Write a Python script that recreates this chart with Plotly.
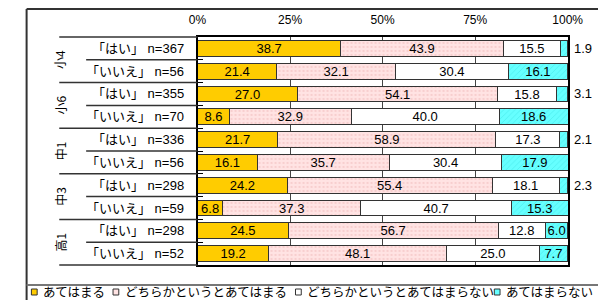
import plotly.graph_objects as go

groups = ["小4", "小6", "中1", "中3", "高1"]
row_labels = ["「はい」 n=367", "「いいえ」 n=56", "「はい」 n=355", "「いいえ」 n=70",
              "「はい」 n=336", "「いいえ」 n=56", "「はい」 n=298", "「いいえ」 n=59",
              "「はい」 n=298", "「いいえ」 n=52"]
series_names = ["あてはまる", "どちらかというとあてはまる", "どちらかというとあてはまらない", "あてはまらない"]
s1 = [38.7, 21.4, 27.0, 8.6, 21.7, 16.1, 24.2, 6.8, 24.5, 19.2]
s2 = [43.9, 32.1, 54.1, 32.9, 58.9, 35.7, 55.4, 37.3, 56.7, 48.1]
s3 = [15.5, 30.4, 15.8, 40.0, 17.3, 30.4, 18.1, 40.7, 12.8, 25.0]
s4 = [1.9, 16.1, 3.1, 18.6, 2.1, 17.9, 2.3, 15.3, 6.0, 7.7]
x_ticks = [0, 25, 50, 75, 100]
x_tick_labels = ["0%", "25%", "50%", "75%", "100%"]

# page body has an 8px margin; figure is sized to fit the remaining window
OFF = 8
W, H = 613 - OFF, 300 - OFF
def px(x): return (x - OFF) / W
def py(y): return 1 - (y - OFF) / H

plot_left, plot_right, plot_top, plot_bottom = 196, 582, 37, 265
n = len(row_labels)
row_h = (plot_bottom - plot_top) / n

fill = ["#FFCC00", "#FFE3E3", "#FFFFFF", "#66FFFF"]
patterns = [None,
            dict(shape=".", fgcolor="#F0B8B8", bgcolor="#FFE3E3", size=4, solidity=0.25),
            None,
            dict(shape="/", fgcolor="#33DDDD", bgcolor="#66FFFF", size=4, solidity=0.2)]
all_series = [s1, s2, s3, s4]
y_pos = list(range(n))

fig = go.Figure()
for name, vals, c, pat in zip(series_names, all_series, fill, patterns):
    texts = [f"{v:.1f}" if v >= 5 else "" for v in vals]
    marker = dict(color=c, line=dict(color="#333333", width=1))
    if pat:
        marker["pattern"] = pat
    fig.add_trace(go.Bar(
        y=y_pos, x=vals, orientation="h", name=name, marker=marker,
        text=texts, textposition="inside", insidetextanchor="middle",
        textfont=dict(family="Liberation Sans, Arial", size=13, color="black"),
        width=0.7, showlegend=False, cliponaxis=False, constraintext="none",
    ))

annotations = []
for i, v in enumerate(s4):
    if v < 5:
        annotations.append(dict(x=100, y=i, xref="x", yref="y", text=f"{v:.1f}",
                                showarrow=False, xanchor="left", xshift=4,
                                font=dict(family="Liberation Sans, Arial", size=13, color="black")))
for i, lab in enumerate(row_labels):
    annotations.append(dict(x=px(184), y=i, xref="paper", yref="y", text=lab,
                            showarrow=False, xanchor="right",
                            font=dict(family="Liberation Sans, Noto Sans CJK JP", size=13, color="black")))
for g, name in enumerate(groups):
    annotations.append(dict(x=px(53), y=2 * g + 0.5, xref="paper", yref="y", text=name,
                            showarrow=False, textangle=-90, xanchor="center", yanchor="middle",
                            font=dict(family="Noto Sans CJK JP", size=12, color="black")))

shapes = []
for g in range(len(groups) + 1):
    yy = plot_top + 2 * g * row_h
    shapes.append(dict(type="line", xref="paper", yref="paper", x0=px(52), x1=px(plot_left),
                       y0=py(yy), y1=py(yy), line=dict(color="#333333", width=1.5)))
for g in range(len(groups)):
    yy = plot_top + (2 * g + 1) * row_h
    shapes.append(dict(type="line", xref="paper", yref="paper", x0=px(80), x1=px(plot_left),
                       y0=py(yy), y1=py(yy), line=dict(color="#333333", width=1.5)))
shapes.append(dict(type="line", xref="paper", yref="paper", x0=px(18), x1=1, y0=py(9), y1=py(9),
                   line=dict(color="#333333", width=2)))
shapes.append(dict(type="line", xref="paper", yref="paper", x0=px(18), x1=px(18), y0=py(9), y1=0,
                   line=dict(color="#333333", width=2)))
shapes.append(dict(type="line", xref="paper", yref="paper", x0=px(18), x1=1, y0=py(285), y1=py(285),
                   line=dict(color="#777777", width=2)))

# custom legend (key positions in pixels)
legend_x = [23, 108, 298, 505]
leg_y = 291
for lx, name, c in zip(legend_x, series_names, fill):
    shapes.append(dict(type="rect", xref="paper", yref="paper", x0=px(lx), x1=px(lx + 6),
                       y0=py(leg_y + 4), y1=py(leg_y - 2), fillcolor=c,
                       line=dict(color="#333333", width=1)))
    annotations.append(dict(x=px(lx + 10), y=py(leg_y), xref="paper", yref="paper", text=name,
                            showarrow=False, xanchor="left", yanchor="middle",
                            font=dict(family="Noto Sans CJK JP", size=12.5, color="black")))

fig.update_layout(
    width=W, height=H, margin=dict(l=0, r=0, t=0, b=0),
    paper_bgcolor="white", plot_bgcolor="white",
    barmode="stack", bargap=0.3,
    uniformtext=dict(minsize=13, mode="show"),
    shapes=shapes, annotations=annotations,
    xaxis=dict(domain=[px(plot_left), px(plot_right)], range=[0, 100.15], side="top",
               tickvals=x_ticks, ticktext=x_tick_labels, showgrid=True, gridcolor="#444444",
               gridwidth=1, showline=True, mirror=True, linecolor="black", linewidth=2,
               ticks="", ticklabelstandoff=6, zeroline=False,
               tickfont=dict(family="Liberation Sans, Arial", size=12, color="black")),
    yaxis=dict(domain=[py(plot_bottom), py(plot_top)], range=[n - 0.5, -0.5],
               tickvals=[i + 0.5 for i in range(n - 1)], showticklabels=False,
               ticks="inside", ticklen=5, tickcolor="black", showgrid=False,
               showline=True, mirror=True, linecolor="black", linewidth=2, zeroline=False),
)

fig.write_html("out.html")
